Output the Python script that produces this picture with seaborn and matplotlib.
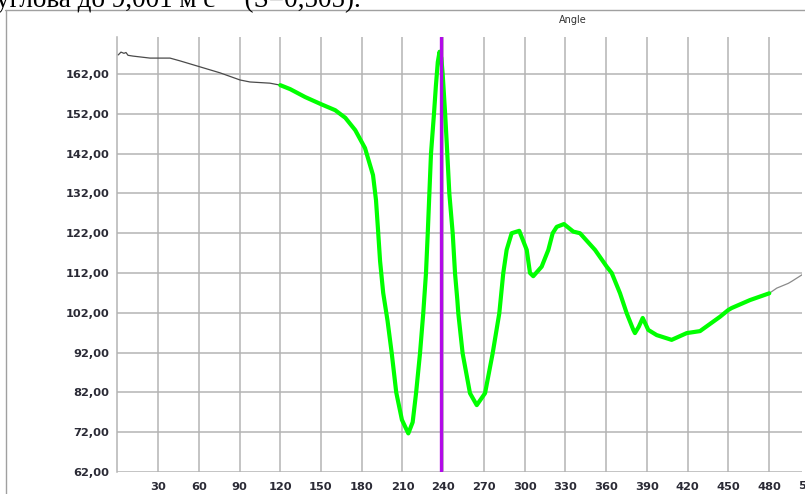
import matplotlib.pyplot as plt
from matplotlib.lines import Line2D
import seaborn as sns
import pandas as pd

# thin dark trace before the selected window
x_head = [0.7, 2.7, 4.9, 6.4, 7.9, 11.6, 24.1, 38.8, 46.2, 60.9, 75.6, 90.4, 97.7, 112.4, 120.0]
y_head = [166.8, 167.5, 167.2, 167.4, 166.7, 166.5, 166.0, 166.0, 165.3, 163.8, 162.3, 160.5, 160.0, 159.7, 159.2]

# selected window (green)
x_win = [120.0, 127.3, 138.4, 149.5, 160.5, 167.9, 175.2, 182.4, 188.3, 190.5, 192.0, 193.5, 195.8, 199.0,
         202.1, 205.4, 209.6, 214.3, 217.5, 220.0, 222.9, 225.3, 227.3, 228.6, 229.8, 231.0, 233.2, 234.6,
         236.0, 237.3, 238.6, 239.6, 240.6, 241.5, 243.0, 244.5, 247.0, 248.7, 250.4, 251.1, 254.3, 259.7,
         264.7, 270.8, 276.4, 281.3, 284.2, 286.7, 290.4, 296.0, 301.5, 303.9, 306.3, 312.5, 317.4, 320.6,
         323.6, 328.9, 335.8, 340.7, 351.8, 360.4, 364.1, 370.2, 375.1, 380.0, 381.2, 384.0, 386.9, 391.0,
         397.2, 408.2, 419.3, 429.1, 443.8, 449.9, 452.4, 465.9, 480.1]
y_win = [159.2, 158.2, 156.2, 154.5, 152.9, 151.0, 147.9, 143.4, 136.6, 130.3, 122.8, 115.0, 107.0, 100.0,
         91.8, 82.0, 75.1, 71.7, 74.5, 81.8, 91.8, 101.9, 111.9, 121.9, 132.0, 142.0, 152.0, 159.0,
         165.0, 167.6, 166.0, 162.0, 156.5, 151.5, 142.0, 132.0, 121.9, 111.9, 105.2, 101.9, 91.8, 81.8,
         78.8, 81.8, 91.8, 101.9, 111.9, 117.8, 122.0, 122.6, 117.8, 112.0, 111.2, 113.6, 117.8, 122.0,
         123.6, 124.3, 122.4, 122.0, 117.8, 113.6, 112.0, 106.9, 101.9, 97.7, 96.9, 98.5, 100.7, 97.7,
         96.4, 95.2, 96.9, 97.4, 101.0, 102.7, 103.2, 105.2, 106.9]

# thin trace after the window
x_tail = [480.1, 485.6, 494.1, 496.6, 504.0, 506.0]
y_tail = [106.9, 108.2, 109.4, 109.9, 111.5, 112.0]

cursor_x = 238.5
x_ticks = list(range(30, 481, 30))
y_ticks = list(range(62, 163, 10))

sns.set_style('white')
plt.rcParams['font.family'] = ['DejaVu Sans']

fig = plt.figure(figsize=(8.05, 4.94), dpi=100)
ax = fig.add_axes([117.3 / 805, 22 / 494, (802 - 117.3) / 805, 435 / 494])

grid_c = '#b4b4b4'
df_head = pd.DataFrame({'x': x_head, 'y': y_head})
df_win = pd.DataFrame({'x': x_win, 'y': y_win})
df_tail = pd.DataFrame({'x': x_tail, 'y': y_tail})

sns.lineplot(data=df_head, x='x', y='y', ax=ax, color='#4a4a4a', lw=0.9, estimator=None, sort=False, zorder=3)
sns.lineplot(data=df_win, x='x', y='y', ax=ax, color='#00ff00', lw=3.0, estimator=None, sort=False, zorder=4)
sns.lineplot(data=df_tail, x='x', y='y', ax=ax, color='#8a8a8a', lw=0.9, estimator=None, sort=False, zorder=3)
ax.axvline(cursor_x, color='#b20ae8', lw=2.4, zorder=5)

ax.set_xlim(0, 504.2)
ax.set_ylim(62, 171.3)
ax.set_xticks(x_ticks)
ax.set_yticks(y_ticks)
ax.set_yticklabels([f'{v:.2f}'.replace('.', ',') for v in y_ticks])
ax.set_xlabel('')
ax.set_ylabel('')
ax.grid(True, color=grid_c, lw=1.1)
ax.tick_params(axis='both', length=4.3, width=1.1, color=grid_c, labelsize=8.2,
               labelcolor='#2a2a35')
ax.tick_params(axis='y', pad=1.5)
ax.tick_params(axis='x', pad=3)
for lab in ax.get_xticklabels() + ax.get_yticklabels():
    lab.set_fontweight('bold')
for side in ['top', 'right', 'bottom']:
    ax.spines[side].set_visible(False)
ax.spines['left'].set_color(grid_c)
ax.spines['left'].set_linewidth(1.1)

# cut-off "510" label at the right border
ax.text(510, -0.033, '510', transform=ax.get_xaxis_transform(), ha='center', va='center',
        fontsize=8.2, fontweight='bold', color='#2a2a35', clip_on=False)

fig.text(573 / 805, 1 - 20 / 494, 'Angle', ha='center', va='center', fontsize=7, color='#333333')

# page text cut off above the chart and the picture frame
fig.text(-0.005, 1 - 7 / 494, 'углова до 9,001 м с⁻¹ (S=0,505).', ha='left', va='baseline',
         fontsize=19.5, family=['Liberation Serif', 'DejaVu Serif'], color='black')
fig.add_artist(Line2D([5 / 805, 1], [1 - 10.5 / 494] * 2, transform=fig.transFigure, color='#a0a0a0', lw=1))
fig.add_artist(Line2D([5.5 / 805] * 2, [0, 1 - 10.5 / 494], transform=fig.transFigure, color='#a0a0a0', lw=1))

fig.savefig('out.png', dpi=100)
